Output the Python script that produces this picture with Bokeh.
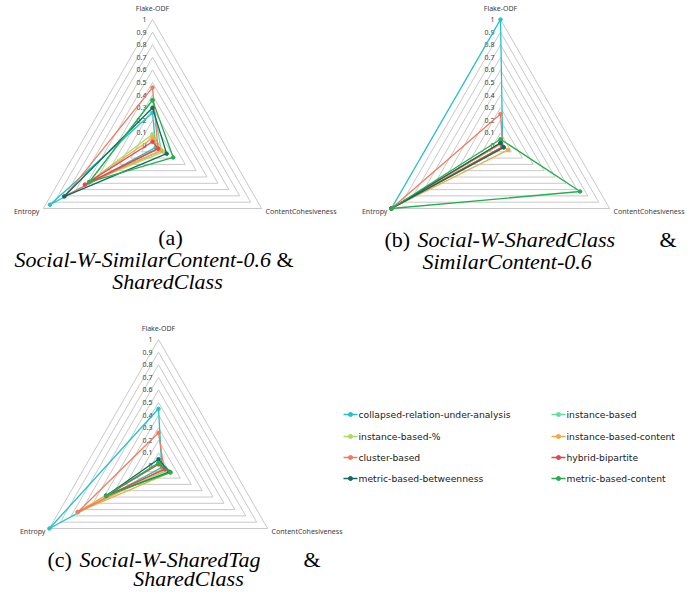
import math
from bokeh.plotting import figure
from bokeh.models import Range1d
from bokeh.core.properties import value
from bokeh.embed import file_html
from bokeh.resources import INLINE

# ---------------- data ----------------
categories = ["Flake-ODF", "ContentCohesiveness", "Entropy"]
tick_labels = ["0", "0.1", "0.2", "0.3", "0.4", "0.5", "0.6", "0.7", "0.8", "0.9", "1"]
tick_values = [0.0, 0.1, 0.2, 0.3, 0.4, 0.5, 0.6, 0.7, 0.8, 0.9, 1.0]

series_names = [
    "collapsed-relation-under-analysis",
    "instance-based",
    "instance-based-%",
    "instance-based-content",
    "cluster-based",
    "hybrid-bipartite",
    "metric-based-betweenness",
    "metric-based-content",
]
series_colors = ["#22C3C6", "#5FE19E", "#A9DC5C", "#F3A844", "#F37A5F",
                 "#E7434F", "#0E6C64", "#22B04E"]

# panel (a): Social-W-SimilarContent-0.6 & SharedClass
a_flake = [0.26, 0.36, 0.09, 0.06, 0.46, 0.03, 0.30, 0.36]
a_cc = [0.03, 0.08, 0.10, 0.08, 0.05, 0.05, 0.13, 0.19]
a_entropy = [0.94, 0.58, 0.58, 0.58, 0.80, 0.62, 0.81, 0.58]

# panel (b): Social-W-SharedClass & SimilarContent-0.6
b_flake = [1.00, 0.02, 0.01, 0.01, 0.25, 0.02, 0.02, 0.05]
b_cc = [0.02, 0.03, 0.03, 0.07, 0.02, 0.02, 0.03, 0.73]
b_entropy = [1.00, 1.00, 1.00, 1.00, 1.00, 1.00, 1.00, 1.00]

# panel (c): Social-W-SharedTag & SharedClass
c_flake = [0.45, 0.02, 0.01, 0.01, 0.26, 0.01, 0.05, 0.02]
c_cc = [0.03, 0.08, 0.07, 0.11, 0.05, 0.06, 0.10, 0.11]
c_entropy = [1.00, 0.48, 0.74, 0.74, 0.74, 0.48, 0.48, 0.48]

# ---------------- layout ----------------
W, H = 697, 592
p = figure(width=W, height=H, output_backend="svg", toolbar_location=None,
           x_range=Range1d(0, W), y_range=Range1d(H, 0),
           min_border=0)
p.axis.visible = False
p.grid.visible = False
p.outline_line_color = None
p.background_fill_color = "white"

R = 126.0
dirs = [(0.0, -1.0), (math.cos(math.radians(30)), 0.5), (-math.cos(math.radians(30)), 0.5)]

FONT = "Noto Sans"
GRAY_TXT = "#404040"
SMALL = "7px"


def pt(cx, cy, k, v):
    return cx + dirs[k][0] * R * v, cy + dirs[k][1] * R * v


def radar(cx, cy, flake, cc, ent):
    # grid rings
    for v in tick_values[1:]:
        xs, ys = [], []
        for k in [0, 1, 2, 0]:
            x, y = pt(cx, cy, k, v)
            xs.append(x)
            ys.append(y)
        p.line(xs, ys, line_color="#C8C8C8", line_width=1)
    # tick labels
    p.text(x=[cx - 6] * len(tick_values), y=[cy - R * v for v in tick_values],
           text=tick_labels, text_font=value(FONT), text_font_size=SMALL,
           text_color=GRAY_TXT, text_align="right", text_baseline="middle")
    # category labels
    p.text(x=[cx], y=[cy - R - 11], text=[categories[0]], text_font=value(FONT),
           text_font_size=SMALL, text_color=GRAY_TXT, text_align="center",
           text_baseline="middle")
    x1, y1 = pt(cx, cy, 1, 1.0)
    p.text(x=[x1 + 4], y=[y1 + 3], text=[categories[1]], text_font=value(FONT),
           text_font_size=SMALL, text_color=GRAY_TXT, text_align="left",
           text_baseline="middle")
    x2, y2 = pt(cx, cy, 2, 1.0)
    p.text(x=[x2 - 4], y=[y2 + 3], text=[categories[2]], text_font=value(FONT),
           text_font_size=SMALL, text_color=GRAY_TXT, text_align="right",
           text_baseline="middle")
    # series
    for i in range(len(series_names)):
        vals = [flake[i], cc[i], ent[i]]
        xs, ys = [], []
        for k in [0, 1, 2]:
            x, y = pt(cx, cy, k, vals[k])
            xs.append(x)
            ys.append(y)
        p.line(xs + [xs[0]], ys + [ys[0]], line_color=series_colors[i], line_width=1.3)
        p.scatter(xs, ys, size=3.5, fill_color=series_colors[i], line_color=series_colors[i])


radar(152, 145, a_flake, a_cc, a_entropy)
radar(500, 145, b_flake, b_cc, b_entropy)
radar(158, 465, c_flake, c_cc, c_entropy)

# ---------------- legend ----------------
leg_x = [343, 551]
leg_y = [414, 436, 457, 478]
for i, name in enumerate(series_names):
    x0 = leg_x[i % 2]
    y0 = leg_y[i // 2]
    p.line([x0, x0 + 14], [y0, y0], line_color=series_colors[i], line_width=1.5)
    p.scatter([x0 + 7], [y0], size=4, fill_color=series_colors[i], line_color=series_colors[i])
    p.text(x=[x0 + 15], y=[y0], text=[name], text_font=value("DejaVu Sans"),
           text_font_size="9.2px", text_color="#202020", text_align="left",
           text_baseline="middle")

# ---------------- captions ----------------
SERIF = "Liberation Serif"
CAP = "22px"


def cap(x, y, t, italic=False, align="left"):
    p.text(x=[x], y=[y], text=[t], text_font=value(SERIF), text_font_size=CAP,
           text_font_style="italic" if italic else "normal", text_color="black",
           text_align=align, text_baseline="middle")


cap(170, 237, "(a)", align="center")
cap(14, 259, "Social-W-SimilarContent-0.6", italic=True)
cap(293, 259, "&", align="right")
cap(167, 281, "SharedClass", italic=True, align="center")

cap(384, 239, "(b)")
cap(417, 239, "Social-W-SharedClass", italic=True)
cap(676, 239, "&", align="right")
cap(422, 261, "SimilarContent-0.6", italic=True)

cap(47, 559, "(c)")
cap(79, 559, "Social-W-SharedTag", italic=True)
cap(320, 559, "&", align="right")
cap(188, 578, "SharedClass", italic=True, align="center")

open("out.html", "w").write(file_html(p, INLINE))
